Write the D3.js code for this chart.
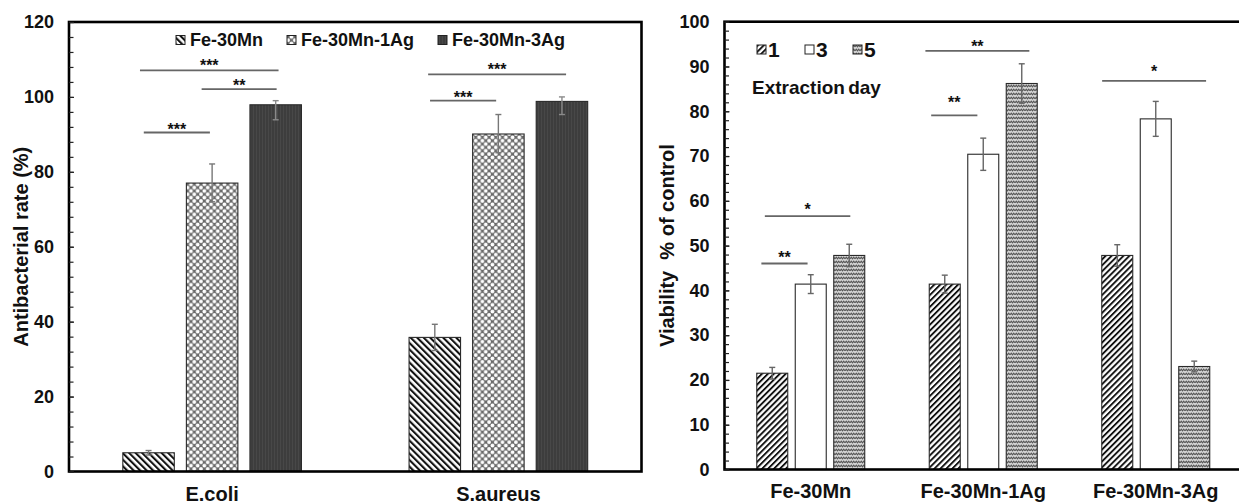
<!DOCTYPE html>
<html>
<head>
<meta charset="utf-8">
<script src="https://cdn.jsdelivr.net/npm/d3@7"></script>
<style>
  html, body { margin: 0; padding: 0; background: #fff; }
  svg { display: block; }
  text { font-family: "Liberation Sans", Arial, sans-serif; font-weight: bold; fill: #111; }
</style>
</head>
<body>
<svg id="chart" width="1239" height="504"></svg>
<script>
// ---- Antibacterial rate panel ----
const leftCategories = ["E.coli", "S.aureus"];
const leftSeries = ["Fe-30Mn", "Fe-30Mn-1Ag", "Fe-30Mn-3Ag"];
const leftFe30Mn = [5.0, 35.8];
const leftFe30Mn1Ag = [77.0, 90.1];
const leftFe30Mn3Ag = [97.9, 98.8];
const leftErrPlus = [[0.6, 3.5], [5.1, 5.2], [1.1, 1.2]];
const leftErrMinus = [[0.6, 3.5], [5.0, 5.0], [4.0, 3.5]];
const leftTicks = [0, 20, 40, 60, 80, 100, 120];
const leftBrackets = [
  { group: "E.coli", from: 0.33, to: 1.37, y: 90.5, label: "***", labelY: 92.3 },
  { group: "E.coli", from: 0.27, to: 2.45, y: 107.1, label: "***", labelY: 109.4 },
  { group: "E.coli", from: 1.24, to: 2.42, y: 102.1, label: "**", labelY: 104.1 },
  { group: "S.aureus", from: 0.30, to: 2.47, y: 106.0, label: "***", labelY: 108.2 },
  { group: "S.aureus", from: 0.33, to: 1.37, y: 99.0, label: "***", labelY: 100.8 }
];

// ---- Cell viability panel ----
const rightCategories = ["Fe-30Mn", "Fe-30Mn-1Ag", "Fe-30Mn-3Ag"];
const rightSeries = ["1", "3", "5"];
const day1 = [21.5, 41.4, 47.8];
const day3 = [41.4, 70.4, 78.3];
const day5 = [47.8, 86.2, 23.0];
const day1Err = [1.3, 2.0, 2.4];
const day3Err = [2.1, 3.6, 3.9];
const day5Err = [2.5, 4.4, 1.2];
const rightTicks = [0, 10, 20, 30, 40, 50, 60, 70, 80, 90, 100];
const rightBrackets = [
  { group: "Fe-30Mn", from: 0.12, to: 1.32, y: 46.0, label: "**", labelY: 48.1 },
  { group: "Fe-30Mn", from: 0.21, to: 2.43, y: 56.6, label: "*", labelY: 58.8 },
  { group: "Fe-30Mn-1Ag", from: 0.05, to: 1.25, y: 79.1, label: "**", labelY: 82.7 },
  { group: "Fe-30Mn-1Ag", from: -0.1, to: 2.6, y: 93.5, label: "**", labelY: 95.3 },
  { group: "Fe-30Mn-3Ag", from: 0.01, to: 2.71, y: 86.8, label: "*", labelY: 89.6 }
];

const svg = d3.select("#chart");
const defs = svg.append("defs");

// fill patterns
function stripePattern(id, angle, size, width) {
  const p = defs.append("pattern").attr("id", id)
    .attr("patternUnits", "userSpaceOnUse")
    .attr("width", size).attr("height", size)
    .attr("patternTransform", `rotate(${angle})`);
  p.append("rect").attr("width", size).attr("height", size).attr("fill", "#fff");
  p.append("rect").attr("x", 0).attr("y", 0).attr("width", width).attr("height", size).attr("fill", "#111");
}
stripePattern("backStripe", -45, 4.6, 2.1);
stripePattern("fwdStripe", 45, 4.2, 1.9);

(function () {
  const s = 6.7;
  const p = defs.append("pattern").attr("id", "lattice")
    .attr("patternUnits", "userSpaceOnUse").attr("width", s).attr("height", s);
  p.append("rect").attr("width", s).attr("height", s).attr("fill", "#6a6a6a");
  [[0, 0], [s, 0], [0, s], [s, s], [s / 2, s / 2]].forEach(([cx, cy]) =>
    p.append("circle").attr("cx", cx).attr("cy", cy).attr("r", 1.9).attr("fill", "#fff"));
})();

(function () {
  const p = defs.append("pattern").attr("id", "dense")
    .attr("patternUnits", "userSpaceOnUse").attr("width", 3).attr("height", 3);
  p.append("rect").attr("width", 3).attr("height", 3).attr("fill", "#3d3d3d");
  p.append("rect").attr("x", 1).attr("width", 0.8).attr("height", 3).attr("fill", "#4a4a4a");
})();

(function () {
  const p = defs.append("pattern").attr("id", "wave")
    .attr("patternUnits", "userSpaceOnUse").attr("width", 5).attr("height", 4);
  p.append("rect").attr("width", 5).attr("height", 4).attr("fill", "#d6d6d6");
  p.append("path").attr("d", "M0,2.8 L1.25,1.2 L2.5,2.8 L3.75,1.2 L5,2.8")
    .attr("fill", "none").attr("stroke", "#555").attr("stroke-width", 1.1);
})();

function drawPanel(cfg) {
  const g = svg.append("g");
  const x0 = d3.scaleBand().domain(cfg.categories).range(cfg.xRange)
    .paddingInner(cfg.groupPad).paddingOuter(cfg.groupPad / 2);
  const x1 = d3.scaleBand().domain(cfg.series).range([0, x0.bandwidth()])
    .paddingInner(cfg.barPad).paddingOuter(0);
  const y = d3.scaleLinear().domain(cfg.yDomain).range(cfg.yRange);

  // bars
  cfg.series.forEach((s, si) => {
    const vals = cfg.values[si];
    g.append("g").selectAll("rect").data(cfg.categories).join("rect")
      .attr("x", c => x0(c) + x1(s))
      .attr("y", (c, ci) => y(vals[ci]))
      .attr("width", x1.bandwidth())
      .attr("height", (c, ci) => y(0) - y(vals[ci]))
      .attr("fill", cfg.fills[si])
      .attr("stroke", "#2a2a2a").attr("stroke-width", 1.1);
  });

  // error bars
  cfg.series.forEach((s, si) => {
    const vals = cfg.values[si];
    cfg.categories.forEach((c, ci) => {
      const cx = x0(c) + x1(s) + x1.bandwidth() / 2;
      const hi = y(vals[ci] + cfg.errPlus[si][ci]);
      const lo = y(vals[ci] - cfg.errMinus[si][ci]);
      const eg = g.append("g").attr("stroke", cfg.errColor[si]).attr("stroke-width", 1.4);
      eg.append("line").attr("x1", cx).attr("x2", cx).attr("y1", hi).attr("y2", lo);
      eg.append("line").attr("x1", cx - 3).attr("x2", cx + 3).attr("y1", hi).attr("y2", hi);
      eg.append("line").attr("x1", cx - 3).attr("x2", cx + 3).attr("y1", lo).attr("y2", lo);
    });
  });

  // significance brackets
  const step = x1.step();
  cfg.brackets.forEach(b => {
    const xa = x0(b.group) + b.from * step;
    const xb = x0(b.group) + b.to * step;
    g.append("line").attr("x1", xa).attr("x2", xb)
      .attr("y1", y(b.y)).attr("y2", y(b.y))
      .attr("stroke", "#666").attr("stroke-width", 1.8);
    g.append("text").attr("x", (xa + xb) / 2).attr("y", y(b.labelY) + 9)
      .attr("text-anchor", "middle").style("font-size", "16px").text(b.label);
  });

  // frame
  const [xl, xr] = cfg.xRange;
  g.append("rect").attr("x", xl).attr("y", y(cfg.yDomain[1]))
    .attr("width", xr - xl).attr("height", y(0) - y(cfg.yDomain[1]))
    .attr("fill", "none").attr("stroke", "#000").attr("stroke-width", 2.6);

  // y axis: major + minor ticks drawn inside
  const minor = d3.range(cfg.yDomain[0], cfg.yDomain[1] + 0.001, cfg.minorStep);
  g.append("g").attr("transform", `translate(${xl},0)`)
    .call(d3.axisLeft(y).tickValues(minor).tickFormat("").tickSizeInner(-4.5).tickSizeOuter(0))
    .call(a => a.select(".domain").remove())
    .call(a => a.selectAll("line").attr("stroke", "#222").attr("stroke-width", 1.2));
  g.append("g").attr("transform", `translate(${xl},0)`)
    .call(d3.axisLeft(y).tickValues(cfg.ticks).tickSizeInner(-5).tickSizeOuter(0).tickPadding(15))
    .call(a => a.select(".domain").remove())
    .call(a => a.selectAll("line").attr("stroke", "#222").attr("stroke-width", 1.2))
    .call(a => a.selectAll("text").style("font-size", "18px")
      .style("font-family", '"Liberation Sans", Arial, sans-serif').style("font-weight", "bold")
      .attr("fill", "#111"));

  // category labels
  g.append("g").selectAll("text").data(cfg.categories).join("text")
    .attr("x", c => x0(c) + x0.bandwidth() / 2)
    .attr("y", cfg.catLabelY)
    .attr("text-anchor", "middle").style("font-size", cfg.catFont + "px")
    .text(c => c);

  // y title
  const ym = (cfg.yRange[0] + cfg.yRange[1]) / 2;
  g.append("text").attr("transform", `translate(${cfg.titleX},${ym}) rotate(-90)`)
    .attr("text-anchor", "middle").attr("dy", "0.35em").style("font-size", "20px")
    .style("white-space", "pre").text(cfg.title);

  return g;
}

drawPanel({
  categories: leftCategories, series: leftSeries,
  values: [leftFe30Mn, leftFe30Mn1Ag, leftFe30Mn3Ag],
  errPlus: leftErrPlus, errMinus: leftErrMinus,
  fills: ["url(#backStripe)", "url(#lattice)", "url(#dense)"],
  errColor: ["#777", "#777", "#8a8a8a"],
  xRange: [69, 641.5], groupPad: 0.376, barPad: 0.19,
  yDomain: [0, 120], yRange: [471.5, 22], ticks: leftTicks, minorStep: 4,
  brackets: leftBrackets, catLabelY: 501, catFont: 20,
  title: "Antibacterial rate (%)", titleX: 20.5
});

drawPanel({
  categories: rightCategories, series: rightSeries,
  values: [day1, day3, day5],
  errPlus: [day1Err, day3Err, day5Err], errMinus: [day1Err, day3Err, day5Err],
  fills: ["url(#fwdStripe)", "#fff", "url(#wave)"],
  errColor: ["#666", "#666", "#666"],
  xRange: [724.5, 1242], groupPad: 0.374, barPad: 0.195,
  yDomain: [0, 100], yRange: [469.5, 21.7], ticks: rightTicks, minorStep: 2,
  brackets: rightBrackets, catLabelY: 498, catFont: 20,
  title: "Viability  % of control", titleX: 667
});

// legends
function legendItem(x, yc, fill, label, font, gap) {
  svg.append("rect").attr("x", x).attr("y", yc - 4.5).attr("width", 9).attr("height", 9)
    .attr("fill", fill).attr("stroke", "#222").attr("stroke-width", 1);
  svg.append("text").attr("x", x + 9 + gap).attr("y", yc).attr("dy", "0.36em")
    .style("font-size", font + "px").text(label);
}
const leftFills = ["url(#backStripe)", "url(#lattice)", "url(#dense)"];
[176, 287, 438].forEach((lx, i) => legendItem(lx, 40, leftFills[i], leftSeries[i], 18, 5));
const rightFills = ["url(#fwdStripe)", "#fff", "url(#wave)"];
[757, 805, 853].forEach((lx, i) => legendItem(lx, 49.5, rightFills[i], rightSeries[i], 21, 2));
svg.append("text").attr("x", 752).attr("y", 86.7).attr("dy", "0.36em")
  .style("font-size", "19px").style("word-spacing", "-2px").text("Extraction day");
</script>
</body>
</html>
